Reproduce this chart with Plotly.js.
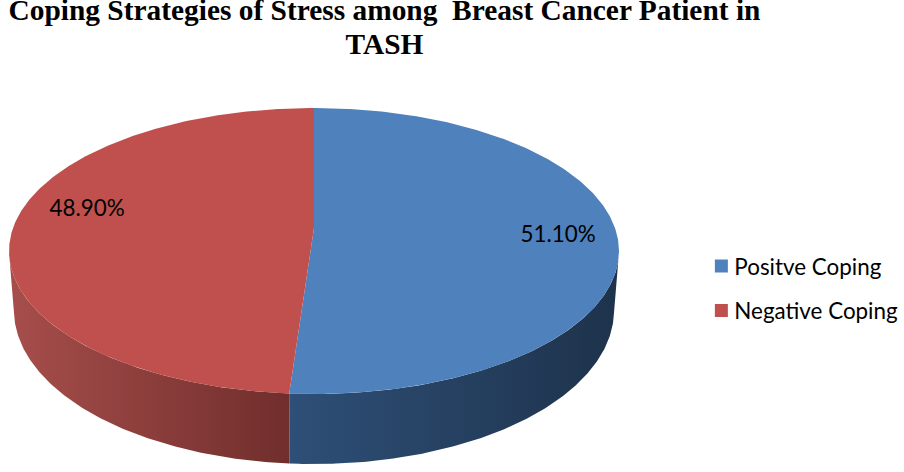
<!DOCTYPE html>
<html>
<head>
<meta charset="utf-8">
<script src="https://cdn.plot.ly/plotly-3.0.0.min.js"></script>
<style>
html,body{margin:0;padding:0;background:#fff}
#chart{width:904px;height:472px}
.legendsymbols{transform:translateX(7px)}
</style>
</head>
<body>
<div id="chart"></div>
<script>
// Data
const categories = ['Positve Coping', 'Negative Coping'];
const shares = [51.10, 48.90];
const titleLines = ['Coping Strategies of Stress among\u00A0 Breast Cancer Patient in', 'TASH'];

// Styles
const topColors = ['#4f81bd', '#c0504d'];
const wallScales = [
  [[0, '#2e4f77'], [1, '#1e334c']],
  [[0, '#a54d4a'], [1, '#702e2c']]
];
const wallRanges = [[290, 612], [18, 290]];
const labelSpots = [[558, 236], [87, 210]];

// Perspective projection of the pie disc on the plot's data axes
const cx = 314, apexY = 228, A = 301, B = 139.3, p = 0.1608;
function topRim(deg) {
  const t = deg * Math.PI / 180, s = Math.sin(t), c = -Math.cos(t), w = 1 - p * c;
  return [cx + A * s / w, apexY + B * c / w];
}
function lowRim(deg) {
  const q = topRim(deg);
  return [cx + (q[0] - cx) * 0.984, 310 + (q[1] - 251) * 1.077];
}
function arc(fn, a, b) {
  const n = Math.max(2, Math.ceil(Math.abs(b - a) * 2)), pts = [];
  for (let i = 0; i <= n; i++) pts.push(fn(a + (b - a) * i / n));
  return pts;
}
const total = shares.reduce((a, b) => a + b, 0);
const splitDeg = 360 * shares[0] / total;
const sectors = [[0, splitDeg], [splitDeg, 360]];
const wallSpans = [[splitDeg, 100], [splitDeg, 260]];

const traces = [];
function poly(pts, extra) {
  traces.push(Object.assign({
    type: 'scatter', mode: 'lines', fill: 'toself',
    x: pts.map(q => q[0]), y: pts.map(q => q[1]),
    line: {width: 0}, showlegend: false, hoverinfo: 'skip'
  }, extra));
}
// Side walls
wallSpans.forEach((span, i) => {
  const pts = arc(topRim, span[0], span[1]).concat(arc(lowRim, span[1], span[0]));
  poly(pts, {
    fillcolor: 'rgba(0,0,0,0)',
    fillgradient: {type: 'horizontal', colorscale: wallScales[i], start: wallRanges[i][0], stop: wallRanges[i][1]}
  });
});
// Top faces
sectors.forEach((sec, i) => {
  const pts = [[cx, apexY]].concat(arc(topRim, sec[0], sec[1]));
  pts.push([cx, apexY]);
  poly(pts, {fillcolor: topColors[i]});
});
// Value labels
shares.forEach((v, i) => {
  traces.push({
    type: 'scatter', mode: 'text', x: [labelSpots[i][0]], y: [labelSpots[i][1]],
    text: [v.toFixed(2) + '%'], textposition: 'middle center',
    textfont: {family: 'Lato, Carlito, sans-serif', size: 22.4, color: '#000'},
    showlegend: false, hoverinfo: 'skip'
  });
});
// Legend entries
categories.forEach((name, i) => {
  traces.push({
    type: 'scatter', mode: 'markers', x: [null], y: [null], name: name,
    legendgroup: name,
    marker: {symbol: 'square', size: 13, color: topColors[i]}
  });
});

const layout = {
  width: 904, height: 472,
  margin: {l: 0, r: 0, t: 0, b: 0},
  paper_bgcolor: '#fff', plot_bgcolor: '#fff',
  title: {
    text: titleLines.map(t => '<span style="font-size:29.4px">' + t + '</span>').join('<br>'),
    font: {family: '"Liberation Serif", serif', size: 26.2, color: '#000', weight: 700},
    x: 0.4253, xanchor: 'center', xref: 'paper',
    y: 0.957, yanchor: 'top', yref: 'paper', pad: {t: 0}
  },
  xaxis: {range: [0, 904], visible: false, fixedrange: true},
  yaxis: {range: [472, 0], visible: false, fixedrange: true},
  legend: {
    x: 0.7681, xanchor: 'left', y: 0.481, yanchor: 'top',
    traceorder: 'grouped', tracegroupgap: 12.3,
    font: {family: 'Lato, Carlito, sans-serif', size: 22.4, color: '#000'},
    bgcolor: 'rgba(0,0,0,0)', itemwidth: 30
  },
  showlegend: true,
  hovermode: false
};
Plotly.newPlot('chart', traces, layout, {displayModeBar: false, staticPlot: true});
</script>
</body>
</html>
